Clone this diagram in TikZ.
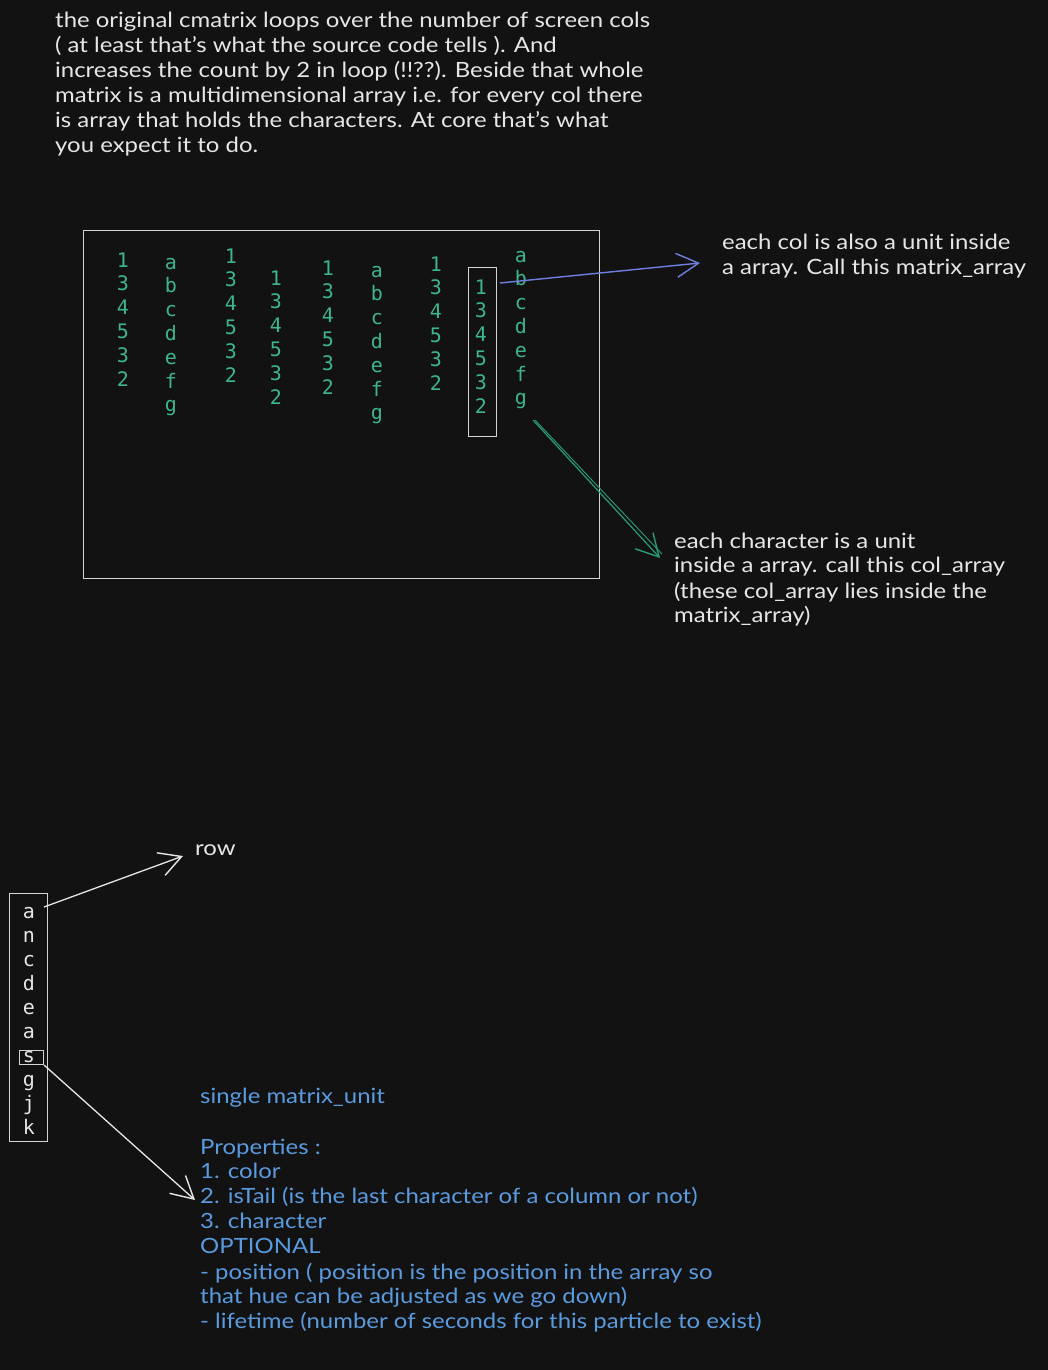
\documentclass[tikz,border=0pt]{standalone}
\usepackage{fontspec}
\setmainfont{Lato}[FakeStretch=1.14]
\newfontfamily\monofont{DejaVu Sans Mono}
\usetikzlibrary{arrows.meta}
\definecolor{bg}{HTML}{121212}
\definecolor{ink}{HTML}{E6E6E6}
\definecolor{grn}{HTML}{3DB68A}
\definecolor{blu}{HTML}{5A9BE0}
\definecolor{barrow}{HTML}{6F7FE0}
\definecolor{garrow}{HTML}{2A9D78}
\definecolor{frame}{HTML}{D4D4D4}
\begin{document}
\begin{tikzpicture}[x=1pt,y=-1pt,
  note/.style={anchor=base west, inner sep=0pt, text=ink, font=\fontsize{21}{25}\selectfont},
  bnote/.style={note, text=blu},
  ch/.style={anchor=base, inner sep=0pt, text=grn, font=\monofont\fontsize{20}{24}\selectfont},
  wch/.style={ch, text=ink},
  box/.style={draw=frame, line width=1.4pt, inner sep=0pt, anchor=north west},
  tip/.style={-{Straight Barb[length=22pt,width=24pt,line width=1.4pt]}},
]
\fill[bg] (0,0) rectangle (1048,1370);
\useasboundingbox (0,0) rectangle (1048,1370);

% top explanatory text
\node[note] (t1) at (55,28) {the original cmatrix loops over the number of screen cols};
\node[note] (t2) at (55,53) {( at least that's what the source code tells ). And};
\node[note] (t3) at (55,78) {increases the count by 2 in loop (!!??). Beside that whole};
\node[note] (t4) at (55,103) {matrix is a multidimensional array i.e. for every col there};
\node[note] (t5) at (55,128) {is array that holds the characters. At core that's what};
\node[note] (t6) at (55,153) {you expect it to do.};

% big frame
\node[box, minimum width=516pt, minimum height=348pt] (frame) at (83,230) {};

% columns
\foreach \ch [count=\r from 0] in {1,3,4,5,3,2} \node[ch] (c1-\r) at (123,267+\r*23.8) {\ch};
\foreach \ch [count=\r from 0] in {a,b,c,d,e,f,g} \node[ch] (c2-\r) at (171,269+\r*23.8) {\ch};
\foreach \ch [count=\r from 0] in {1,3,4,5,3,2} \node[ch] (c3-\r) at (231,263+\r*23.8) {\ch};
\foreach \ch [count=\r from 0] in {1,3,4,5,3,2} \node[ch] (c4-\r) at (276,285+\r*23.8) {\ch};
\foreach \ch [count=\r from 0] in {1,3,4,5,3,2} \node[ch] (c5-\r) at (328,275+\r*23.8) {\ch};
\foreach \ch [count=\r from 0] in {a,b,c,d,e,f,g} \node[ch] (c6-\r) at (377,277+\r*23.8) {\ch};
\foreach \ch [count=\r from 0] in {1,3,4,5,3,2} \node[ch] (c7-\r) at (436,271+\r*23.8) {\ch};
\foreach \ch [count=\r from 0] in {1,3,4,5,3,2} \node[ch] (c8-\r) at (481,294+\r*23.8) {\ch};
\foreach \ch [count=\r from 0] in {a,b,c,d,e,f,g} \node[ch] (c9-\r) at (521,262+\r*23.8) {\ch};

% box around column 8
\node[box, minimum width=28pt, minimum height=169pt] (c8box) at (468,267) {};

% blue arrow to matrix_array note
\coordinate (bstart) at (500,283);
\coordinate (bend) at (700,263);
\draw[barrow, line width=1.4pt, tip] (bstart) -- (bend);
\node[note] (m1) at (722,249) {each col is also a unit inside};
\node[note] (m2) at (722,274) {a array. Call this matrix\_array};

% green arrow to col_array note
\coordinate (gstart) at (533,420);
\coordinate (gend) at (660,558);
\draw[garrow, line width=1.2pt, tip] (gstart) -- (gend);
\draw[garrow, line width=0.9pt] ([xshift=2pt]gstart) -- ([xshift=2pt,yshift=4pt]gend);
\node[note] (n1) at (674,548) {each character is a unit};
\node[note] (n2) at (674,572) {inside a array. call this col\_array};
\node[note] (n3) at (674,598) {(these col\_array lies inside the};
\node[note] (n4) at (674,622) {matrix\_array)};

% single column (row)
\node[box, minimum width=38pt, minimum height=248pt] (rowbox) at (9,893) {};
\foreach \ch [count=\r from 0] in {a,n,c,d,e,a,s,g,j,k} \node[wch] (r-\r) at (29,918+\r*24) {\ch};
\node[box, minimum width=24pt, minimum height=14pt, line width=1.1pt] (sbox) at (19,1050) {};

\coordinate (rstart) at (44,907);
\coordinate (rend) at (183,856);
\draw[ink, line width=1.3pt, tip] (rstart) -- (rend);
\node[note] (rowlbl) at (195,855) {row};

\coordinate (uend) at (195,1200);
\draw[ink, line width=1.3pt, tip] (sbox.south east) -- (uend);

% properties text
\node[bnote] (p1) at (200,1103) {single matrix\_unit};
\node[bnote] (p2) at (200,1154) {Properties :};
\node[bnote] (p3) at (200,1178) {1. color};
\node[bnote] (p4) at (200,1203) {2. isTail (is the last character of a column or not)};
\node[bnote] (p5) at (200,1228) {3. character};
\node[bnote] (p6) at (200,1253) {OPTIONAL};
\node[bnote] (p7) at (200,1279) {- position ( position is the position in the array so};
\node[bnote] (p8) at (200,1303) {that hue can be adjusted as we go down)};
\node[bnote] (p9) at (200,1328) {- lifetime (number of seconds for this particle to exist)};
\end{tikzpicture}
\end{document}
